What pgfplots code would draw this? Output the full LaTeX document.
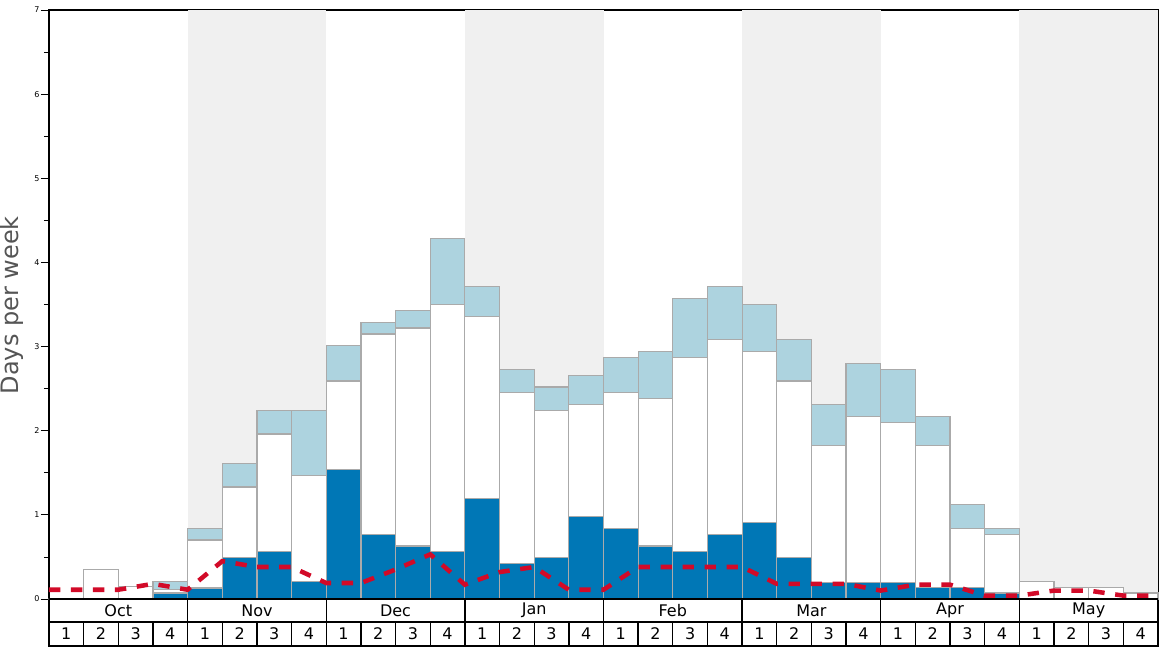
\documentclass[border=0pt]{standalone}
\usepackage{pgfplots}
\pgfplotsset{compat=1.18}
\usepackage{pgfplotstable}
\usepackage{fontspec}
\setmainfont{DejaVu Sans}
\definecolor{darkblue}{HTML}{0077B6}
\definecolor{lightblue}{HTML}{ADD3DF}
\definecolor{bargray}{HTML}{AAAAAA}
\definecolor{bgshade}{HTML}{F0F0F0}
\definecolor{redline}{HTML}{D20A28}
\definecolor{labelgray}{HTML}{555555}

% x = week centre, dark = bottom value, white = top of white part, light = top of light-blue part
\pgfplotstableread{
x    dark  white light
0.5  0.00  0.00  0.00
1.5  0.00  0.35  0.35
2.5  0.00  0.15  0.15
3.5  0.07  0.11  0.21
4.5  0.13  0.70  0.84
5.5  0.49  1.33  1.61
6.5  0.56  1.96  2.24
7.5  0.21  1.47  2.24
8.5  1.54  2.59  3.01
9.5  0.77  3.15  3.29
10.5 0.63  3.22  3.43
11.5 0.56  3.50  4.28
12.5 1.19  3.36  3.71
13.5 0.42  2.45  2.73
14.5 0.49  2.24  2.52
15.5 0.98  2.31  2.66
16.5 0.84  2.45  2.87
17.5 0.63  2.38  2.94
18.5 0.56  2.87  3.57
19.5 0.77  3.08  3.71
20.5 0.91  2.94  3.50
21.5 0.49  2.59  3.08
22.5 0.20  1.82  2.31
23.5 0.20  2.17  2.80
24.5 0.20  2.10  2.73
25.5 0.14  1.82  2.17
26.5 0.14  0.84  1.12
27.5 0.07  0.77  0.84
28.5 0.00  0.21  0.21
29.5 0.00  0.14  0.14
30.5 0.00  0.14  0.14
31.5 0.00  0.07  0.07
}\bars

\pgfplotstableread{
x  y
0  0.11
1  0.11
2  0.11
3  0.18
4  0.11
5  0.45
6  0.38
7  0.38
8  0.19
9  0.19
10 0.35
11 0.53
12 0.17
13 0.32
14 0.38
15 0.11
16 0.11
17 0.38
18 0.38
19 0.38
20 0.38
21 0.18
22 0.18
23 0.18
24 0.10
25 0.17
26 0.17
27 0.04
28 0.04
29 0.10
30 0.10
31 0.04
32 0.04
}\avgline

\begin{document}
\begin{tikzpicture}
\begin{axis}[
  at={(0,0)}, anchor=south west,
  scale only axis,
  width=831.75pt, height=477pt,
  xmin=0, xmax=32, ymin=-0.5586, ymax=7,
  axis line style={line width=1.5pt},
  xtick=\empty,
  ytick={0,1,...,7},
  minor ytick={0.5,1.5,...,6.5},
  ytick pos=left,
  tick align=outside,
  major tick length=6pt,
  minor tick length=3.75pt,
  tick style={black, line width=0.6pt},
  yticklabel style={font=\fontsize{6}{7}\selectfont, inner sep=1pt},
  /pgf/number format/assume math mode=true,
  clip=false,
]
% month background shading
\fill[bgshade] (axis cs:4,0) rectangle (axis cs:8,7);
\fill[bgshade] (axis cs:12,0) rectangle (axis cs:16,7);
\fill[bgshade] (axis cs:20,0) rectangle (axis cs:24,7);
\fill[bgshade] (axis cs:28,0) rectangle (axis cs:32,7);

\addplot[ybar, bar width=1, bar shift=0pt, fill=lightblue, draw=bargray, line width=0.9pt] table[x=x, y=light] {\bars};
\addplot[ybar, bar width=1, bar shift=0pt, fill=white, draw=bargray, line width=0.9pt] table[x=x, y=white] {\bars};
\addplot[ybar, bar width=1, bar shift=0pt, fill=darkblue, draw=bargray, line width=0.9pt] table[x=x, y=dark] {\bars};

\addplot[sharp plot, no marks, redline, line width=3.4pt, dash pattern=on 8.5pt off 8pt] table[x=x, y=y] {\avgline};

% label rows below the plot
\draw[black, line width=1pt] (axis cs:0,0) -- (axis cs:32,0);
\draw[black, line width=1pt] (axis cs:0,-0.2734) -- (axis cs:32,-0.2734);
\pgfplotsinvokeforeach{4,8,12,16,20,24,28}{
  \draw[black, line width=1pt] (axis cs:#1,0) -- (axis cs:#1,-0.2734);
}
\pgfplotsinvokeforeach{1,...,31}{
  \draw[black, line width=1pt] (axis cs:#1,-0.2734) -- (axis cs:#1,-0.5586);
}
\pgfplotsinvokeforeach{0,4,8,12,16,20,24,28}{
  \node[font=\fontsize{12}{14}\selectfont] at (axis cs:#1+0.5,-0.4160) {1};
  \node[font=\fontsize{12}{14}\selectfont] at (axis cs:#1+1.5,-0.4160) {2};
  \node[font=\fontsize{12}{14}\selectfont] at (axis cs:#1+2.5,-0.4160) {3};
  \node[font=\fontsize{12}{14}\selectfont] at (axis cs:#1+3.5,-0.4160) {4};
}
\node[font=\fontsize{12}{14}\selectfont] at (axis cs:2,-0.1367) {Oct};
\node[font=\fontsize{12}{14}\selectfont] at (axis cs:6,-0.1367) {Nov};
\node[font=\fontsize{12}{14}\selectfont] at (axis cs:10,-0.1367) {Dec};
\node[font=\fontsize{12}{14}\selectfont] at (axis cs:14,-0.1367) {Jan};
\node[font=\fontsize{12}{14}\selectfont] at (axis cs:18,-0.1367) {Feb};
\node[font=\fontsize{12}{14}\selectfont] at (axis cs:22,-0.1367) {Mar};
\node[font=\fontsize{12}{14}\selectfont] at (axis cs:26,-0.1367) {Apr};
\node[font=\fontsize{12}{14}\selectfont] at (axis cs:30,-0.1367) {May};

\node[rotate=90, font=\fontsize{18}{20}\selectfont, text=labelgray, xshift=0pt] at ([xshift=-27.75pt]axis cs:0,3.49) {Days per week};
\end{axis}
\pgfresetboundingbox
\path (-36.75pt,-1.5pt) rectangle (839.25pt,484.5pt);
\end{tikzpicture}
\end{document}
